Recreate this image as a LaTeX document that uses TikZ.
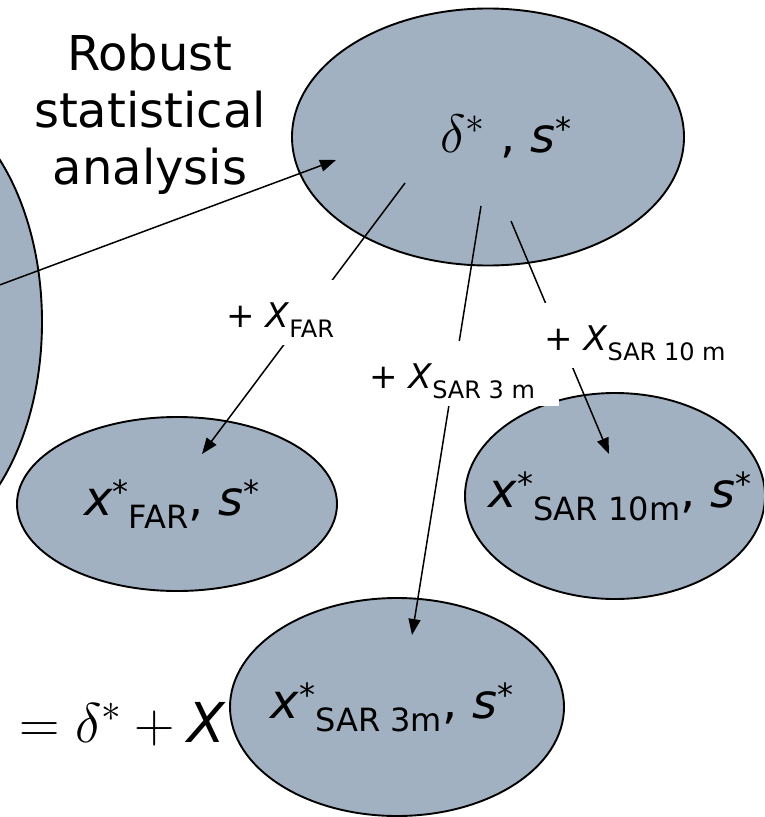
\documentclass[tikz,border=0pt]{standalone}
\usepackage{fix-cm}
\usepackage{fontspec}
\setmainfont{DejaVu Sans}
\usepackage{tikz}
\usetikzlibrary{shapes.geometric, arrows.meta, positioning}
\definecolor{ovalgray}{RGB}{162,177,193}
\tikzset{
  %% ---- ovals ----
  oval/.style     = {ellipse, draw=black, line width=1.9pt,
                     fill=ovalgray, inner sep=0pt},
  ovaltext/.style = {inner sep=0pt, font=\fontsize{48}{58}\selectfont},
  %% ---- labels ----
  pluslabel/.style = {rectangle, fill=white, anchor=base,
                      inner xsep=#1, inner ysep=6pt,
                      text height=41pt, text depth=12pt,
                      font=\fontsize{34}{40}\selectfont},
  pluslabel/.default = 10pt,
  %% ---- arrows ----
  arrow/.style = {-{Triangle[length=16pt, width=12pt]}, line width=1.5pt},
}
\newcommand{\ovalstar}{\raisebox{12pt}{\fontsize{32}{32}\selectfont *}}
\newcommand{\ovalsub}[1]{\raisebox{-13pt}{\fontsize{32}{32}\selectfont #1}}
\newcommand{\labsub}[1]{\raisebox{-10pt}{\fontsize{24}{24}\selectfont #1}}

\begin{document}
\begin{tikzpicture}[x=1pt, y=-1pt]

  \useasboundingbox (0,0) rectangle (764,817);
  \clip (0,0) rectangle (764,817);

  %% ovals
  \node[oval, minimum width=284pt, minimum height=456pt] (raw) at (-100,322) {};
  \node[oval, minimum width=392pt, minimum height=257pt,
        label={[ovaltext, xshift=18pt]center:{{\fontsize{54}{58}\selectfont$\delta^*$} , \textit{s}\ovalstar}}]
        (stats) at (488,137) {};
  \node[oval, minimum width=320pt, minimum height=174pt,
        label={[ovaltext, xshift=-5pt]center:{\textit{x}\ovalstar\ovalsub{FAR}, \textit{s}\ovalstar}}]
        (far) at (177,504) {};
  \node[oval, minimum width=300pt, minimum height=206pt,
        label={[ovaltext, xshift=5pt]center:{\textit{x}\ovalstar\ovalsub{SAR 10m}, \textit{s}\ovalstar}}]
        (sarten) at (615,496) {};
  \node[oval, minimum width=334pt, minimum height=218pt,
        label={[ovaltext, xshift=-5pt]center:{\textit{x}\ovalstar\ovalsub{SAR 3m}, \textit{s}\ovalstar}}]
        (sarthree) at (397,707) {};

  %% texts
  \node[align=center, inner sep=0pt, anchor=north,
        font=\fontsize{48}{57}\selectfont] (title) at (150,34)
    {Robust\\statistical\\analysis};
  \node[inner sep=0pt, anchor=base east,
        font=\fontsize{56}{60}\selectfont] (eqn) at (225,742)
    {$x^* = \delta^* + \mbox{\fontsize{55}{60}\selectfont\itshape X}$};

  %% arrows
  \coordinate (hit)         at (336,160);
  \coordinate (farout)      at (405,183);
  \coordinate (farin)       at (202,454);
  \coordinate (sarthreeout) at (481,206);
  \coordinate (sarthreein)  at (412,635);
  \coordinate (sartenout)   at (511,221);
  \coordinate (sartenin)    at (609,454);

  \draw[arrow] (raw.center) -- (hit);
  \draw[arrow] (farout) -- (farin);
  \draw[arrow] (sarthreeout) -- (sarthreein);
  \draw[arrow] (sartenout) -- (sartenin);

  %% labels on the arrows
  \node[pluslabel] (lfar) at (280,327) {+ \textit{X}\labsub{FAR}};
  \node[pluslabel=24pt] (lsarthree) at (452,388) {+ \textit{X}\labsub{SAR 3 m}};
  \node[pluslabel] (lsarten) at (635,350) {+ \textit{X}\labsub{SAR 10 m}};

\end{tikzpicture}
\end{document}
